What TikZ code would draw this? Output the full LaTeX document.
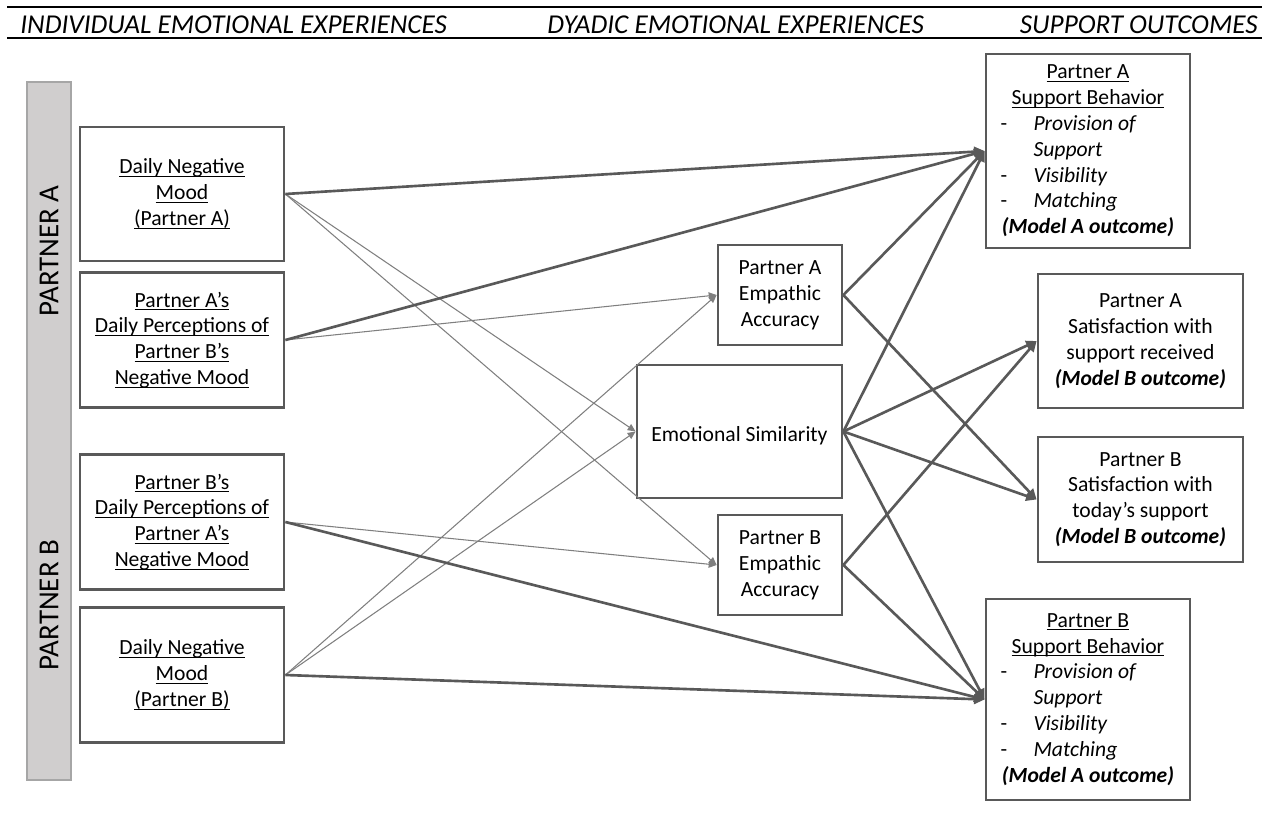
\documentclass[tikz,border=0pt]{standalone}
\usepackage{fontspec}
\setmainfont{Carlito}
\usetikzlibrary{arrows.meta}

\definecolor{boxgray}{HTML}{595959}
\definecolor{thingray}{HTML}{7F7F7F}
\definecolor{bargray}{HTML}{D0CECE}

% underline at a fixed depth, and a list line inside the support boxes
\newcommand{\uln}[1]{\underline{\raisebox{0pt}[\height][0pt]{#1}}}
\newcommand{\supitem}[2]{\makebox[3.5cm][l]{\makebox[0.66cm][l]{#1}\textit{#2}}}

\tikzset{
  box/.style={draw=boxgray, line width=1.6pt, align=center, inner sep=2pt,
    font=\fontsize{12.3}{14.7}\selectfont, execute at begin node={\rule{0pt}{13pt}}},
  heading/.style={inner sep=0pt, anchor=base west, font=\fontsize{15.5}{18}\selectfont\itshape},
  sidelabel/.style={rotate=90, inner sep=0pt, font=\fontsize{16.5}{20}\selectfont},
  thick arrow/.style={draw=boxgray, line width=1.5pt, -{Triangle[length=6pt,width=5.5pt]}},
  thin arrow/.style={draw=thingray, line width=0.6pt, -{Triangle[length=4.5pt,width=4pt]}},
}

\begin{document}
\begin{tikzpicture}[x=0.02cm, y=-0.02cm]
    \useasboundingbox (0,0) rectangle (1269,825);

    % Column headings
    \draw[line width=1.2pt] (7,7) -- (1262,7);
    \draw[line width=0.9pt] (7,38) -- (1262,38);
    \node[heading] (headind) at (20,33) {INDIVIDUAL EMOTIONAL EXPERIENCES};
    \node[heading] (headdya) at (547,33) {DYADIC EMOTIONAL EXPERIENCES};
    \node[heading, anchor=base east] (headout) at (1258,33) {SUPPORT OUTCOMES};

    % Partner bar on the left
    \draw[draw=gray!70, fill=bargray, line width=0.6pt] (27,82) rectangle (71,780);
    \node[sidelabel] (barA) at (49,251) {PARTNER A};
    \node[sidelabel] (barB) at (49,605) {PARTNER B};

    % Individual emotional experiences
    \node[box, minimum width=4.08cm, minimum height=2.68cm] (moodA) at (182,194)
        {\uln{Daily Negative}\\ \uln{Mood}\\ \uln{(Partner A)}};
    \node[box, minimum width=4.08cm, minimum height=2.7cm] (percA) at (182,340)
        {\uln{Partner A’s}\\ \uln{Daily Perceptions of}\\ \uln{Partner B’s}\\ \uln{Negative Mood}};
    \node[box, minimum width=4.08cm, minimum height=2.7cm] (percB) at (182,522)
        {\uln{Partner B’s}\\ \uln{Daily Perceptions of}\\ \uln{Partner A’s}\\ \uln{Negative Mood}};
    \node[box, minimum width=4.08cm, minimum height=2.7cm] (moodB) at (182,675)
        {\uln{Daily Negative}\\ \uln{Mood}\\ \uln{(Partner B)}};

    % Dyadic emotional experiences
    \node[box, minimum width=2.48cm, minimum height=2cm] (empA) at (780,295)
        {Partner A\\ Empathic\\ Accuracy};
    \node[box, minimum width=4.1cm, minimum height=2.66cm] (simil) at (739.5,431.5)
        {Emotional Similarity};
    \node[box, minimum width=2.48cm, minimum height=2cm] (empB) at (780,565)
        {Partner B\\ Empathic\\ Accuracy};

    % Support outcomes
    \node[box, minimum width=4.08cm, minimum height=3.88cm] (suppA) at (1088,151)
        {\uln{Partner A}\\ \uln{Support Behavior}\\ \supitem{-}{Provision of}\\ \supitem{}{Support}\\
         \supitem{-}{Visibility}\\ \supitem{-}{Matching}\\ \textbf{\textit{(Model A outcome)}}};
    \node[box, minimum width=4.1cm, minimum height=2.68cm] (satA) at (1140.5,341)
        {Partner A\\ Satisfaction with\\ support received\\ \textbf{\textit{(Model B outcome)}}};
    \node[box, minimum width=4.1cm, minimum height=2.5cm] (satB) at (1140.5,499.5)
        {Partner B\\ Satisfaction with\\ today’s support\\ \textbf{\textit{(Model B outcome)}}};
    \node[box, minimum width=4.08cm, minimum height=4.02cm] (suppB) at (1088,699.5)
        {\uln{Partner B}\\ \uln{Support Behavior}\\ \supitem{-}{Provision of}\\ \supitem{}{Support}\\
         \supitem{-}{Visibility}\\ \supitem{-}{Matching}\\ \textbf{\textit{(Model A outcome)}}};

    % Paths into the dyadic measures
    \foreach \s/\t in {moodA/simil, moodA/empB, percA/empA, percB/empB, moodB/simil, moodB/empA}
        \draw[thin arrow] (\s.east) -- (\t.west);

    % Paths into the outcomes
    \foreach \s/\t in {moodA/suppA, percA/suppA, percB/suppB, moodB/suppB,
                       empA/suppA, empA/satB, simil/suppA, simil/satA,
                       simil/satB, simil/suppB, empB/satA, empB/suppB}
        \draw[thick arrow] (\s.east) -- (\t.west);
\end{tikzpicture}
\end{document}
